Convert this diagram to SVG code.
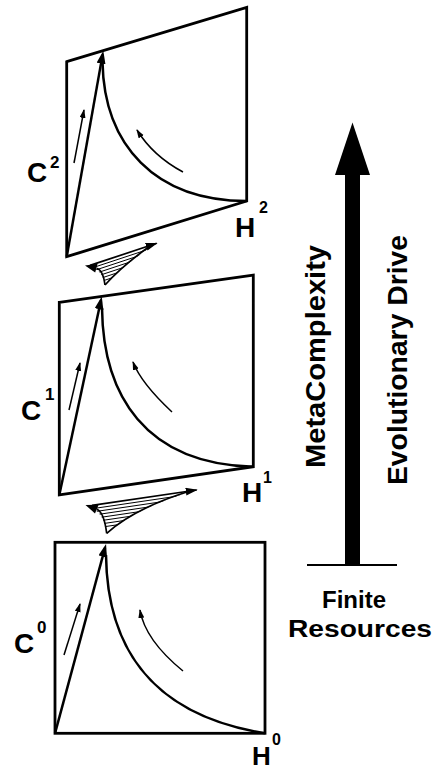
<svg xmlns="http://www.w3.org/2000/svg" width="433" height="768" viewBox="0 0 433 768">
<style>
.frame{fill:none;stroke:#000;stroke-width:2.8;stroke-linejoin:miter}
.main{fill:none;stroke:#000;stroke-width:2.5}
.thin{fill:none;stroke:#000;stroke-width:1.5}
.conn{fill:none;stroke:#000;stroke-width:1.7}
.hatch{fill:none;stroke:#000;stroke-width:1}
.head{fill:#000;stroke:none}
.lbl{font-family:"Liberation Sans",Arial,sans-serif;font-weight:bold;fill:#000}
</style>
<defs>
<marker id="big" markerUnits="userSpaceOnUse" viewBox="0 0 14 10" markerWidth="14" markerHeight="10" refX="9" refY="4.5" orient="auto">
<path d="M0,0 L13,4.5 L0,9 Z" fill="#000"/>
</marker>
<marker id="small" markerUnits="userSpaceOnUse" viewBox="0 0 10 8" markerWidth="10" markerHeight="8" refX="8" refY="3" orient="auto">
<path d="M0,0 L9,3 L0,6 Z" fill="#000"/>
</marker>
<marker id="conn" markerUnits="userSpaceOnUse" viewBox="0 0 13 9" markerWidth="13" markerHeight="9" refX="11" refY="4" orient="auto">
<path d="M0,0 L12,4 L0,8 Z" fill="#000"/>
</marker>
<clipPath id="clipU"><path d="M105 285 Q103 270 88 266 L156.7 243.3 Q122 266 105 285 Z"/></clipPath>
<clipPath id="clipL"><path d="M106.7 533.3 Q104 512 88 506 L196.7 490 Q135 508 106.7 533.3 Z"/></clipPath>
</defs>

<g id="panel2">
<path class="frame" d="M66.7 61.7 L246.7 7.3 L246.7 201 L66.7 256.7 Z"/>
<path class="main" d="M66.7 256.7 L102.6 54.6" marker-end="url(#big)"/>
<path class="main" d="M102.5 62 C104 145 155 201 246.7 201"/>
<path class="thin" d="M74 163 L84 110" marker-end="url(#small)"/>
<path class="thin" d="M183 172 Q153 156 137 130" marker-end="url(#small)"/>
<text class="lbl" x="27" y="182" font-size="28">C</text>
<text class="lbl" x="50" y="168" font-size="17">2</text>
<text class="lbl" x="235" y="237" font-size="28">H</text>
<text class="lbl" x="259" y="213" font-size="16">2</text>
</g>

<g id="panel1">
<path class="frame" d="M59.3 302.3 L253.3 275 L253.3 466.7 L59.3 495 Z"/>
<path class="main" d="M59.3 495 L100.9 300.4" marker-end="url(#big)"/>
<path class="main" d="M102 308 C103 395 145 464 253.3 466.7"/>
<path class="thin" d="M69 410 L80 363" marker-end="url(#small)"/>
<path class="thin" d="M172 412 Q141 383 133 362" marker-end="url(#small)"/>
<text class="lbl" x="21" y="420" font-size="28">C</text>
<text class="lbl" x="45" y="400" font-size="17">1</text>
<text class="lbl" x="242" y="502" font-size="28">H</text>
<text class="lbl" x="263" y="483" font-size="16">1</text>
</g>

<g id="panel0">
<rect class="frame" x="55" y="542.3" width="210" height="191"/>
<path class="main" d="M55 733.3 L105 547.9" marker-end="url(#big)"/>
<path class="main" d="M106 555 C107 640 145 714 265 733.3"/>
<path class="thin" d="M64 655 L80 604" marker-end="url(#small)"/>
<path class="thin" d="M183 671 Q145 640 140 610" marker-end="url(#small)"/>
<text class="lbl" x="14" y="653" font-size="28">C</text>
<text class="lbl" x="37" y="633" font-size="17">0</text>
<text class="lbl" x="252" y="765" font-size="26">H</text>
<text class="lbl" x="272" y="745" font-size="16">0</text>
</g>

<g id="connectors">
<g id="map-upper">
<g clip-path="url(#clipU)">
<path class="hatch" d="M80 271.9 L170 242.2 M80 275.2 L170 245.5 M80 278.5 L170 248.8 M80 281.8 L170 252.1 M80 285.1 L170 255.4 M80 288.4 L170 258.7"/>
</g>
<path class="conn" d="M90 265.4 L156.7 243.3" marker-end="url(#conn)"/>
<path class="conn" d="M105 285 Q103 270 96.6 268.3"/>
<polygon class="head" points="85,265.5 97.6,263.8 95.2,272.6"/>
<path class="conn" d="M105 285 Q122 266 150 246"/>
</g>
<g id="map-lower">
<g clip-path="url(#clipL)">
<path class="hatch" d="M80 510.5 L205 492.1 M80 513.8 L205 495.4 M80 517.1 L205 498.7 M80 520.4 L205 502 M80 523.7 L205 505.3 M80 527 L205 508.6 M80 530.3 L205 511.9"/>
</g>
<path class="conn" d="M92 505.4 L196.7 490" marker-end="url(#conn)"/>
<path class="conn" d="M106.7 533.3 Q104 512 96.8 509.2"/>
<polygon class="head" points="85.5,504.9 98.6,504.8 95,513.5"/>
<path class="conn" d="M106.7 533.3 Q135 508 190 491"/>
</g>
</g>

<g id="drive">
<rect x="345" y="174" width="15" height="391" fill="#000"/>
<polygon points="352.5,122.5 335,175 370,175" fill="#000"/>
<line x1="307" y1="565" x2="397" y2="565" stroke="#000" stroke-width="2"/>
<text class="lbl" font-size="28" text-anchor="middle" textLength="223" lengthAdjust="spacingAndGlyphs" transform="translate(325,356.5) rotate(-90)">MetaComplexity</text>
<text class="lbl" font-size="28" text-anchor="middle" textLength="250" lengthAdjust="spacingAndGlyphs" transform="translate(407,360) rotate(-90)">Evolutionary Drive</text>
<text class="lbl" x="354" y="608" font-size="23" text-anchor="middle" textLength="64" lengthAdjust="spacingAndGlyphs">Finite</text>
<text class="lbl" x="360" y="637" font-size="23" text-anchor="middle" textLength="144" lengthAdjust="spacingAndGlyphs">Resources</text>
</g>
</svg>
